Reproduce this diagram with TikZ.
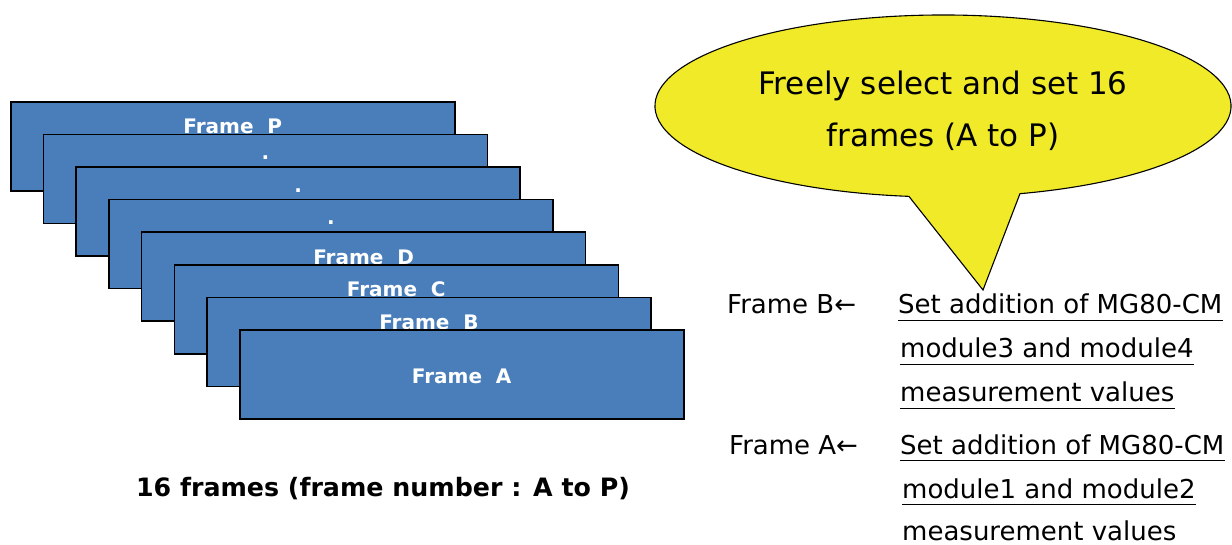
\documentclass[tikz,border=0pt]{standalone}
\usepackage{fontspec}
\setmainfont{DejaVu Sans}
\usetikzlibrary{calc}
\definecolor{framefill}{HTML}{4A7EBB}
\definecolor{bubblefill}{HTML}{F0EA28}

\tikzset{
  stackframe/.style={draw=black, line width=1.6pt, fill=framefill,
    minimum width=444pt, minimum height=89pt, inner sep=0pt, anchor=north west},
  framelabel/.style={text=white, font=\fontsize{20}{24}\selectfont\bfseries,
    anchor=base, inner sep=0pt},
  bubble/.style={draw=black, line width=1.1pt, fill=bubblefill, line join=miter},
  bubbletext/.style={font=\fontsize{31}{36}\selectfont, anchor=base, inner sep=0pt},
  notetext/.style={font=\fontsize{26}{30}\selectfont, anchor=base west, inner sep=0pt},
  captiontext/.style={font=\fontsize{25.3}{30}\selectfont\bfseries, anchor=base, inner sep=0pt},
  underline/.style={draw=black, line width=1.8pt},
}

\begin{document}
\begin{tikzpicture}[x=1pt, y=1pt]
\useasboundingbox (0,0) rectangle (1232,544);

% stack of frames, drawn from the back (P) to the front (A)
\foreach \i/\lab/\dy in {0/{Frame\ \ P}/33, 1/./26, 2/./26, 3/./26,
    4/{Frame\ \ D}/33, 5/{Frame\ \ C}/33, 6/{Frame\ \ B}/33, 7/{Frame\ \ A}/54} {
  \pgfmathsetmacro\fx{10+32.7*\i}
  \pgfmathsetmacro\fy{544-101-32.6*\i}
  \node[stackframe] (frame\i) at (\fx,\fy) {};
  \node[framelabel] (label\i) at ($(frame\i.north)+(0,-\dy)$) {\lab};
}

\node[captiontext] (caption) at (383,48) {16 frames (frame number : A to P)};

% speech bubble
\coordinate (bc) at (943,438);
\coordinate (tip) at (983,254);
\draw[bubble] ($(bc)+(285.5:288pt and 91pt)$)
  arc[start angle=285.5, end angle=623.2, x radius=288pt, y radius=91pt]
  -- (tip) -- cycle;
\node[bubbletext] (bubble1) at (943,449) {Freely select and set 16};
\node[bubbletext] (bubble2) at (943,397) {frames (A to P)};

% frame assignments
\node[notetext] (fB) at (727,230) {Frame B←};
\node[notetext] (b1) at (898,230) {Set addition of MG80-CM};
\node[notetext] (b2) at (900,186) {module3 and module4};
\node[notetext] (b3) at (900,142) {measurement values};

\node[notetext] (fA) at (729,90) {Frame A←};
\node[notetext] (a1) at (900,90) {Set addition of MG80-CM};
\node[notetext] (a2) at (902,46) {module1 and module2};
\node[notetext] (a3) at (902,4) {measurement values};

% underlined description lines
\foreach \n in {b1,b2,b3,a1,a2}
  \draw[underline] ($(\n.base west)+(0,-6.5)$) -- ($(\n.base east)+(0,-6.5)$);
\end{tikzpicture}
\end{document}
